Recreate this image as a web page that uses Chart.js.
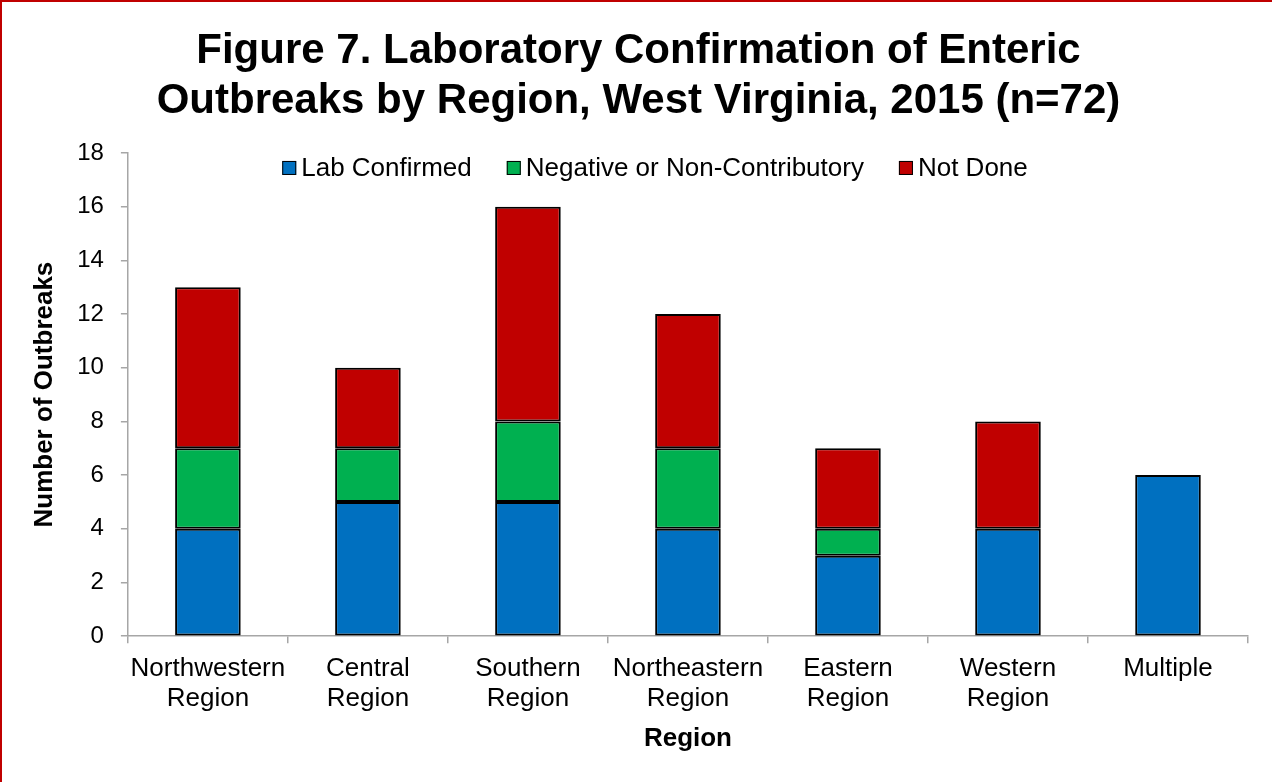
<!DOCTYPE html>
<html lang="en">
<head>
  <meta charset="UTF-8">
  <title>Figure 7</title>
  <script src="https://cdn.jsdelivr.net/npm/chart.js"></script>
  <style>
    body {
      margin: 0;
      padding: 0;
      background: white;
      font-family: 'Liberation Sans', Arial, sans-serif;
    }

    .frame {
      width: 1272px;
      height: 782px;
      box-sizing: border-box;
      border-top: 2px solid #c00000;
      border-left: 2px solid #c00000;
    }

    .chart-container {
      position: relative;
      width: 1270px;
      height: 780px;
    }
  </style>
</head>
<body>
  <div class="frame">
    <div class="chart-container">
      <canvas id="regionChart"></canvas>
    </div>
  </div>

  <script>
    const regions = [
      ['Northwestern', 'Region'],
      ['Central', 'Region'],
      ['Southern', 'Region'],
      ['Northeastern', 'Region'],
      ['Eastern', 'Region'],
      ['Western', 'Region'],
      'Multiple'
    ];
    const labConfirmed = [4, 5, 5, 4, 3, 4, 6];
    const negativeOrNonContrib = [3, 2, 3, 3, 1, 0, 0];
    const notDone = [6, 3, 8, 5, 3, 4, 0];

    const axisGrey = '#a6a6a6';
    const font = "'Liberation Sans', Arial, sans-serif";

    // no outline on empty segments
    const edge = ctx => (ctx.raw ? 2 : 0);

    // one-row legend drawn inside the top of the plot area
    const insideLegend = {
      id: 'insideLegend',
      afterDraw(chart) {
        const c = chart.ctx;
        const box = 14, gap = 5, spacing = 35;
        c.save();
        c.font = '26px ' + font;
        c.textBaseline = 'middle';
        const items = chart.data.datasets.map(d => ({
          text: d.label, color: d.backgroundColor, w: c.measureText(d.label).width
        }));
        const total = items.reduce((s, it) => s + box + gap + it.w, 0) + spacing * (items.length - 1);
        let x = chart.width / 2 + 18 - total / 2;
        const y = chart.chartArea.top + 15;
        items.forEach(it => {
          c.fillStyle = it.color;
          c.fillRect(x, y - box / 2, box, box);
          c.strokeStyle = '#000';
          c.lineWidth = 1;
          c.strokeRect(x + 0.5, y - box / 2 + 0.5, box - 1, box - 1);
          c.fillStyle = '#000';
          c.fillText(it.text, x + box + gap, y + 1);
          x += box + gap + it.w + spacing;
        });
        c.restore();
      }
    };

    const ctx = document.getElementById('regionChart').getContext('2d');
    new Chart(ctx, {
      type: 'bar',
      data: {
        labels: regions,
        datasets: [
          { label: 'Lab Confirmed', data: labConfirmed, backgroundColor: '#0070c0' },
          { label: 'Negative or Non-Contributory', data: negativeOrNonContrib, backgroundColor: '#00b050' },
          { label: 'Not Done', data: notDone, backgroundColor: '#c00000' }
        ].map(d => Object.assign(d, {
          borderColor: '#000000',
          borderWidth: edge,
          borderSkipped: false,
          barPercentage: 0.41,
          categoryPercentage: 1.0
        }))
      },
      plugins: [insideLegend],
      options: {
        responsive: true,
        maintainAspectRatio: false,
        animation: false,
        layout: { padding: { left: 27, right: 24, bottom: 26 } },
        plugins: {
          title: {
            display: true,
            text: ['Figure 7. Laboratory Confirmation of Enteric', 'Outbreaks by Region, West Virginia, 2015 (n=72)'],
            color: '#000',
            font: { family: font, size: 42, weight: 'bold', lineHeight: 1.19 },
            padding: { top: 24, bottom: 27 }
          },
          legend: { display: false },
          tooltip: { enabled: false }
        },
        scales: {
          x: {
            stacked: true,
            grid: {
              offset: true,
              drawOnChartArea: false,
              drawTicks: true,
              tickLength: 7,
              color: axisGrey,
              lineWidth: 1.5
            },
            border: { color: axisGrey, width: 1.5 },
            ticks: {
              color: '#000',
              font: { family: font, size: 26, lineHeight: 1.15 },
              padding: 11,
              maxRotation: 0,
              autoSkip: false
            },
            title: {
              display: true,
              text: 'Region',
              color: '#000',
              font: { family: font, size: 26, weight: 'bold', lineHeight: 1.0 },
              padding: { top: 1 }
            }
          },
          y: {
            stacked: true,
            min: 0,
            max: 18,
            ticks: {
              stepSize: 2,
              color: '#000',
              font: { family: font, size: 24 },
              padding: 17
            },
            grid: {
              drawOnChartArea: false,
              drawTicks: true,
              tickLength: 7,
              color: axisGrey,
              lineWidth: 1.5
            },
            border: { color: axisGrey, width: 1.5 },
            title: {
              display: true,
              text: 'Number of Outbreaks',
              color: '#000',
              font: { family: font, size: 26, weight: 'bold' },
              padding: { top: 0, bottom: 0 }
            }
          }
        }
      }
    });
  </script>
</body>
</html>
